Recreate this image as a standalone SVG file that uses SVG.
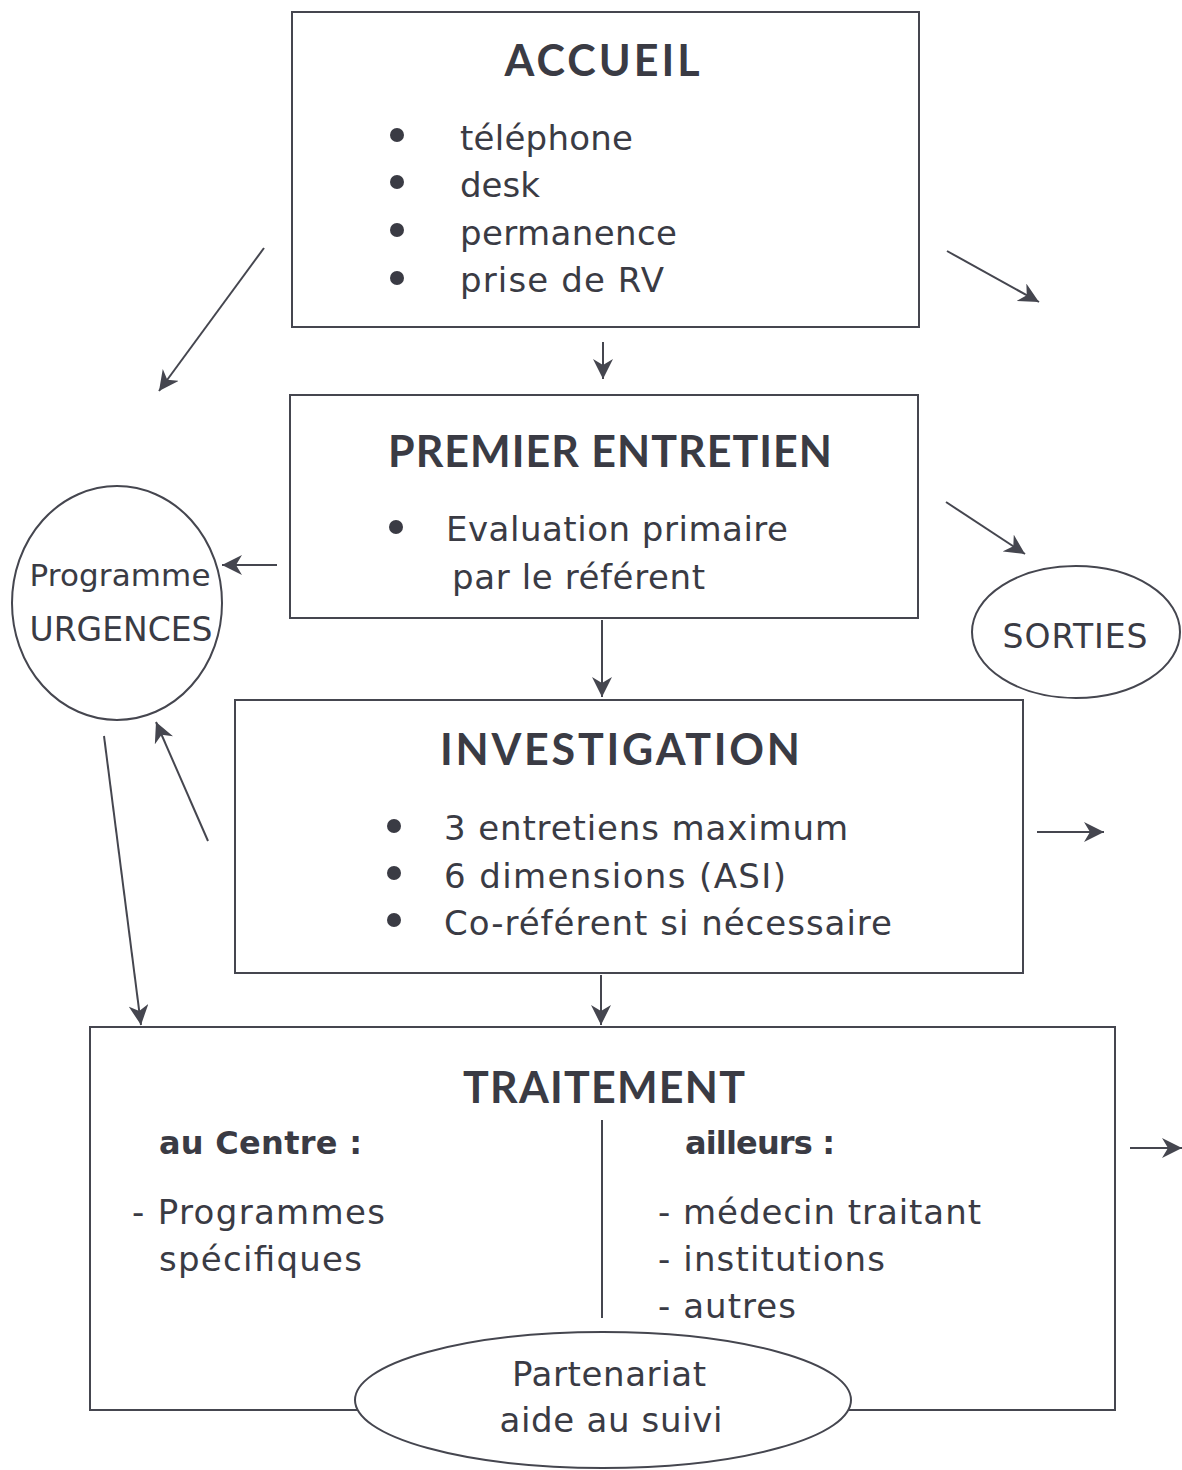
<svg xmlns="http://www.w3.org/2000/svg" width="1182" height="1470" viewBox="0 0 1182 1470">
<style>
.box{fill:none;stroke:#45464f;stroke-width:2}
.ell{fill:#fff;stroke:#45464f;stroke-width:2}
.con{fill:none;stroke:#45464f;stroke-width:2}
.title{font-family:"Lato","Liberation Sans",sans-serif;font-weight:bold;font-size:43px;fill:#3a3b44;text-anchor:middle}
.t{font-family:"DejaVu Sans","Liberation Sans",sans-serif;font-size:34px;fill:#3a3b44}
.b{font-family:"DejaVu Sans","Liberation Sans",sans-serif;font-size:32px;font-weight:bold;fill:#3a3b44}
.c{text-anchor:middle}
.dot{fill:#3a3b44}
</style>
<defs>
<marker id="ahs" viewBox="0 0 10 10" refX="10" refY="5" markerWidth="20" markerHeight="20" markerUnits="userSpaceOnUse" orient="auto">
<path d="M0,0 L10,5 L0,10 L3,5 z" fill="#45464f"/>
</marker>
</defs>
<rect width="1182" height="1470" fill="#fff"/>

<g id="accueil">
<rect class="box" x="292" y="12" width="627" height="315"/>
<text class="title" x="602" y="76" textLength="195" lengthAdjust="spacing">ACCUEIL</text>
<circle class="dot" cx="397" cy="135" r="7"/>
<circle class="dot" cx="397" cy="182" r="7"/>
<circle class="dot" cx="397" cy="230" r="7"/>
<circle class="dot" cx="397" cy="278" r="7"/>
<text class="t" x="460" y="150" textLength="173" lengthAdjust="spacing">téléphone</text>
<text class="t" x="460" y="197" textLength="80" lengthAdjust="spacing">desk</text>
<text class="t" x="460" y="245" textLength="217" lengthAdjust="spacing">permanence</text>
<text class="t" x="460" y="292" textLength="204" lengthAdjust="spacing">prise de RV</text>
</g>

<g id="premier-entretien">
<rect class="box" x="290" y="395" width="628" height="223"/>
<text class="title" x="610" y="467" textLength="444" lengthAdjust="spacing">PREMIER ENTRETIEN</text>
<circle class="dot" cx="396" cy="527" r="7"/>
<text class="t" x="446" y="541" textLength="342" lengthAdjust="spacing">Evaluation primaire</text>
<text class="t" x="452" y="589" textLength="253" lengthAdjust="spacing">par le référent</text>
</g>

<g id="investigation">
<rect class="box" x="235" y="700" width="788" height="273"/>
<text class="title" x="620" y="765" textLength="360" lengthAdjust="spacing">INVESTIGATION</text>
<circle class="dot" cx="394" cy="826" r="7"/>
<circle class="dot" cx="394" cy="873" r="7"/>
<circle class="dot" cx="394" cy="920" r="7"/>
<text class="t" x="444" y="840" textLength="404" lengthAdjust="spacing">3 entretiens maximum</text>
<text class="t" x="444" y="888" textLength="342" lengthAdjust="spacing">6 dimensions (ASI)</text>
<text class="t" x="444" y="935" textLength="448" lengthAdjust="spacing">Co-référent si nécessaire</text>
</g>

<g id="traitement">
<rect class="box" x="90" y="1027" width="1025" height="383"/>
<text class="title" x="604" y="1103" textLength="282" lengthAdjust="spacing">TRAITEMENT</text>
<line class="con" x1="602" y1="1120" x2="602" y2="1318"/>
<text class="b" x="159" y="1154" textLength="203" lengthAdjust="spacing">au Centre :</text>
<text class="t" x="132" y="1224" textLength="253" lengthAdjust="spacing">- Programmes</text>
<text class="t" x="159" y="1271" textLength="203" lengthAdjust="spacing">spécifiques</text>
<text class="b" x="685" y="1154" textLength="150" lengthAdjust="spacing">ailleurs :</text>
<text class="t" x="658" y="1224" textLength="323" lengthAdjust="spacing">- médecin traitant</text>
<text class="t" x="658" y="1271" textLength="227" lengthAdjust="spacing">- institutions</text>
<text class="t" x="658" y="1318" textLength="138" lengthAdjust="spacing">- autres</text>
</g>

<g id="partenariat">
<ellipse class="ell" cx="603" cy="1400" rx="248" ry="68"/>
<text class="t c" x="609" y="1386" textLength="194" lengthAdjust="spacing">Partenariat</text>
<text class="t c" x="611" y="1432" textLength="223" lengthAdjust="spacing">aide au suivi</text>
</g>

<g id="urgences">
<ellipse class="ell" cx="117" cy="603" rx="105" ry="117"/>
<text class="t c" x="120" y="586" style="font-size:31px" textLength="181" lengthAdjust="spacing">Programme</text>
<text class="t c" x="121" y="641" style="font-size:33px" textLength="183" lengthAdjust="spacing">URGENCES</text>
</g>

<g id="sorties">
<ellipse class="ell" cx="1076" cy="632" rx="104" ry="66"/>
<text class="t c" x="1075" y="648" style="font-size:33px" textLength="145" lengthAdjust="spacing">SORTIES</text>
</g>

<g id="connectors">
<line class="con" x1="603" y1="342" x2="603" y2="379" marker-end="url(#ahs)"/>
<line class="con" x1="602" y1="620" x2="602" y2="697" marker-end="url(#ahs)"/>
<line class="con" x1="601" y1="975" x2="601" y2="1025" marker-end="url(#ahs)"/>
<line class="con" x1="264" y1="248" x2="159" y2="391" marker-end="url(#ahs)"/>
<line class="con" x1="947" y1="251" x2="1039" y2="302" marker-end="url(#ahs)"/>
<line class="con" x1="277" y1="565" x2="222" y2="565" marker-end="url(#ahs)"/>
<line class="con" x1="946" y1="502" x2="1025" y2="554" marker-end="url(#ahs)"/>
<line class="con" x1="208" y1="841" x2="156" y2="722" marker-end="url(#ahs)"/>
<line class="con" x1="104" y1="736" x2="141" y2="1025" marker-end="url(#ahs)"/>
<line class="con" x1="1037" y1="832" x2="1104" y2="832" marker-end="url(#ahs)"/>
<line class="con" x1="1130" y1="1148" x2="1182" y2="1148" marker-end="url(#ahs)"/>
</g>
</svg>
